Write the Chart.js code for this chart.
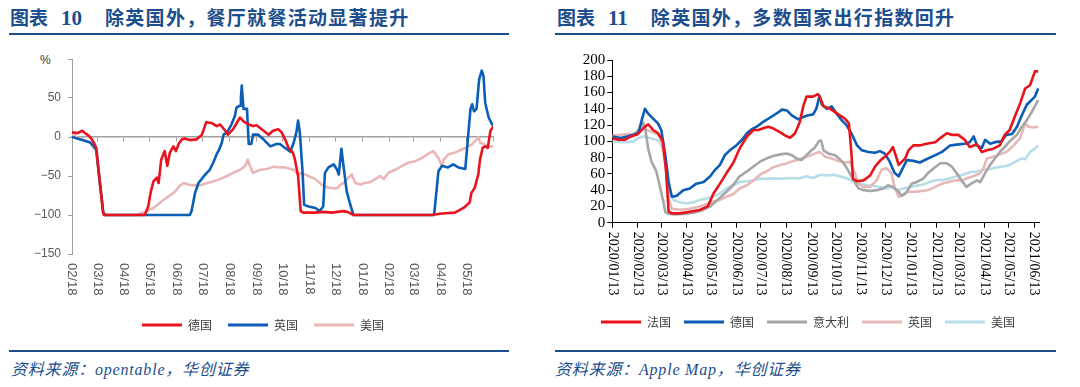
<!DOCTYPE html>
<html><head><meta charset="utf-8">
<script src="https://cdn.jsdelivr.net/npm/chart.js@4.4.1/dist/chart.umd.min.js"></script>
<style>
html,body{margin:0;padding:0;background:#fff;}
body{width:1080px;height:387px;position:relative;overflow:hidden;}
.t{position:absolute;top:6px;font-weight:700;font-size:19px;line-height:22px;color:#1C4E8E;white-space:nowrap;font-family:"Noto Sans CJK SC",sans-serif;}
.t .n{font-family:"Liberation Serif",serif;font-size:21px;margin-left:13px;}
.t .x{margin-left:23px;letter-spacing:1.3px;}
.rule{position:absolute;height:2px;background:#1C4E8E;}
.src{position:absolute;top:360px;font-family:"Liberation Serif","Noto Sans CJK SC",serif;font-style:italic;font-size:16px;line-height:20px;color:#1C4E8E;letter-spacing:0.8px;white-space:nowrap;}
canvas{position:absolute;}
.pct{position:absolute;left:40px;top:53px;font:12px "Liberation Sans",Arial,sans-serif;color:#404040;}
</style></head><body>
<div class="t" style="left:10px">图表<span class="n">10</span><span class="x">除英国外，餐厅就餐活动显著提升</span></div>
<div class="t" style="left:557px">图表<span class="n">11</span><span class="x">除英国外，多数国家出行指数回升</span></div>
<div class="rule" style="left:9px;top:33px;width:500px"></div>
<div class="rule" style="left:555px;top:33px;width:501px"></div>
<div class="rule" style="left:9px;top:350px;width:500px"></div>
<div class="rule" style="left:555px;top:350px;width:501px"></div>
<div class="src" style="left:11px">资料来源：opentable，华创证券</div>
<div class="src" style="left:555px">资料来源：Apple Map，华创证券</div>
<div class="pct">%</div>
<canvas id="c1" width="510" height="320" style="left:0;top:40px"></canvas>
<canvas id="c2" width="520" height="320" style="left:545px;top:40px"></canvas>
<script>
// ---------- Left chart: OpenTable seated diners, % y/y (day offset from 2020-02-18) ----------
const leftTickLabels = ['02/18','03/18','04/18','05/18','06/18','07/18','08/18','09/18','10/18','11/18','12/18','01/18','02/18','03/18','04/18','05/18'];
const deDay = [0,6,10,12,15,19,23,26,28,36,37,84,88,91,94,98,100,103,107,110,113,117,120,123,127,130,136,144,150,155,161,167,171,177,180,186,194,198,204,209,213,219,227,232,238,242,246,250,255,257,261,264,267,280,290,300,313,318,325,388,415,427,442,452,459,461,465,469,471,474,477,480,483,487];
const deVal = [6,5,7,8,5,2,-3,-9,-14,-98,-100,-100,-89,-70,-57,-52,-59,-29,-18,-37,-20,-12,-18,-9,-3,-2,-4,-3,3,19,18,14,16,8,3,10,25,20,16,14,15,10,3,8,10,6,-3,-14,-20,-27,-50,-95,-97,-97,-96,-97,-95,-96,-100,-100,-100,-98,-97,-91,-84,-72,-65,-48,-29,-14,-12,-14,8,14];
const ukDay = [0,9,21,25,28,32,36,38,136,138,142,146,154,159,163,167,170,173,175,179,184,188,190,194,195,196,197,198,202,204,207,209,215,221,229,236,240,246,252,256,259,261,263,266,268,273,281,286,290,292,296,302,306,308,311,313,317,320,323,325,418,423,427,434,440,446,454,460,462,464,467,470,473,475,477,481,485,487];
const ukVal = [0,-3,-7,-12,-16,-57,-96,-100,-100,-95,-72,-59,-48,-42,-33,-22,-16,-7,3,6,16,27,38,40,50,66,50,36,36,-9,-9,3,3,-3,-12,-9,-9,-14,-19,-7,6,21,6,-42,-87,-89,-91,-95,-89,-46,-39,-35,-42,-48,-15,-33,-69,-82,-93,-100,-100,-44,-37,-39,-35,-39,-41,36,42,33,36,74,85,78,44,25,16,14];
const usDay = [0,9,20,25,28,32,36,38,75,86,94,102,109,117,125,129,134,140,148,156,163,171,179,186,194,200,203,206,209,217,225,233,240,246,256,261,265,273,281,288,296,306,310,315,319,323,327,333,338,344,350,356,360,365,373,381,388,396,404,412,417,423,427,429,435,442,448,454,462,467,469,471,475,479,483,487];
const usVal = [3,-2,-6,-14,-18,-60,-97,-100,-100,-95,-91,-84,-78,-72,-62,-59,-61,-62,-62,-59,-57,-54,-50,-46,-42,-37,-29,-39,-46,-42,-41,-38,-39,-39,-42,-48,-46,-50,-54,-61,-65,-66,-61,-58,-52,-48,-59,-61,-59,-58,-54,-50,-54,-46,-42,-37,-33,-31,-27,-21,-18,-27,-37,-29,-22,-20,-17,-14,-9,-3,0,-7,-9,-11,-12,-12];

// ---------- Right chart: Apple mobility index (day offset from 2020-01-13) ----------
const rightTickLabels = ['2020/01/13','2020/02/13','2020/03/13','2020/04/13','2020/05/13','2020/06/13','2020/07/13','2020/08/13','2020/09/13','2020/10/13','2020/11/13','2020/12/13','2021/01/13','2021/02/13','2021/03/13','2021/04/13','2021/05/13','2021/06/13'];
const frDay = [0,7,16,22,30,38,44,50,56,62,66,69,73,83,95,107,117,124,132,140,148,156,165,173,179,185,191,197,206,212,218,224,230,234,238,246,252,255,259,267,273,279,285,290,293,295,300,308,316,322,328,334,340,344,348,351,355,359,363,369,377,385,396,402,410,416,424,432,438,443,447,453,459,467,475,481,487,494,500,506,512,518,522];
const frVal = [104,102,102,106,108,116,121,114,110,100,63,14,11.5,11.5,13.5,15.6,20,36,48,61,73,91,106,114,114,116,118,116,111,107,104.5,110,124,143,155,155,158,153,143,140,136,132,128,122,87,54,51,52,58,69,76,81,87,93,81,71,75,79,89,95,95,97,99,104,110,108,108,102,93,95,96,87,89,91,95,108,114,132,147,165,169,186,186];
const gmDay = [0,10,18,26,32,36,40,44,50,56,60,65,69,73,79,87,95,103,112,120,126,132,138,144,152,159,165,171,177,185,193,201,208,214,220,228,234,240,246,250,254,257,263,269,275,281,287,293,300,306,314,322,328,334,340,346,351,355,361,369,377,385,396,404,414,422,432,438,443,447,453,457,463,469,477,483,490,496,502,508,514,518,522];
const gmVal = [106,104,106,108,110,126,140,134,128,122,114,83,50,32,33,40,42,48,50,57,65,71,83,89,95,102,110,115,118,124,129,134,139,138,132,127,130,132,133,140,156,145,140,143,134,126,120,110,95,89,87,86,88,85,75,61,57,65,77,76,74,78,83,87,95,96,97,99,106,95,92,102,97,99,100,108,109,118,132,145,151,155,165];
const itDay = [0,13,24,32,37,40,44,48,54,58,63,65,69,77,91,103,112,120,130,140,148,156,165,173,181,189,197,206,214,220,226,232,238,244,248,253,256,259,265,273,279,285,291,297,302,308,316,324,332,338,344,351,355,361,367,373,381,387,394,402,410,416,422,428,434,440,447,451,457,463,469,475,481,487,496,502,508,514,520,522];
const itVal = [106,103,106,114,124,118,91,75,63,46,24,13,11,10,11,13,16,20,29,38,46,57,63,69,75,79,82,84,85,83,79,77,83,89,92,100,101,89,85,83,78,71,61,50,42,40,39,40,42,46,44,38,33,38,48,50,54,61,67,73,73,69,61,52,44,48,52,50,61,71,79,87,93,100,108,118,126,136,147,151];
const gbDay = [0,10,18,26,32,37,42,50,56,60,65,69,73,83,95,107,116,124,132,140,148,156,165,173,181,189,197,206,214,222,230,238,246,253,257,261,269,277,285,291,295,302,308,316,324,330,336,342,346,351,357,363,371,379,387,396,404,412,420,428,436,445,451,455,459,467,475,483,492,500,506,510,516,522];
const gbVal = [107,108,109,109,111,120,114,111,109,102,71,30,17,16,17,20,23,26,28,32,35,42,46,52,59,63,68,71,73,76,78,81,84,87,85,81,79,76,74,75,67,48,44,44,52,65,67,61,44,32,34,38,38,39,40,44,48,50,52,52,55,58,61,67,79,81,84,87,95,104,122,118,117,118];
const usaDay = [0,10,18,26,32,38,46,54,58,63,67,71,75,83,91,99,107,116,124,132,140,148,156,165,173,181,189,197,206,214,222,230,238,246,255,263,271,279,287,295,304,312,320,328,336,342,349,357,365,373,381,389,398,406,414,422,430,438,447,455,463,471,479,487,496,502,506,512,518,522];
const usaVal = [100,99,99,100,104,106,104,102,100,87,63,36,28,25,24,25,28,30,32,36,42,46,50,51,52,54,54,54.5,54,54.5,55,54.5,57,55,59,58,59,57,54.5,51,48,46,45.5,44,42,44,40,42,44,45.5,47,50,52.5,52.5,54.5,57,59,62,63,65,66,68,69,71,76,79,78,87,91,95];
const rightYTicks = [0,20,40,60,80,100,120,140,160,180,200];

const DAY = 864e5;
const L0 = Date.UTC(2020,1,18), R0 = Date.UTC(2020,0,13);
const leftTickPos = Array.from({length:17},(_,i)=>(Date.UTC(2020,1+i,18)-L0)/DAY);
const rightTickPos = Array.from({length:18},(_,i)=>(Date.UTC(2020,i,13)-R0)/DAY);
const pts = (d,v)=>d.map((x,i)=>({x:x,y:v[i]}));

const rotLabels = {
  id:'rotLabels',
  afterDraw(chart, args, o){
    const ctx = chart.ctx, xs = chart.scales.x;
    ctx.save();
    ctx.font = o.font; ctx.fillStyle = o.color;
    ctx.textAlign = 'left'; ctx.textBaseline = 'middle';
    o.labels.forEach((lab,i)=>{
      const px = xs.getPixelForValue(o.pos[i]);
      ctx.save();
      ctx.translate(px, chart.chartArea.bottom + o.offset);
      ctx.rotate(Math.PI/2);
      ctx.fillText(lab,0,0);
      ctx.restore();
    });
    ctx.restore();
  }
};
const legendLabels = (pad)=>({
  boxWidth:40, boxHeight:3, padding:pad, color:'#404040',
  font:{family:'"Noto Sans CJK SC", sans-serif', size:12},
  generateLabels(chart){
    const items = Chart.defaults.plugins.legend.labels.generateLabels(chart);
    items.forEach(it=>{it.lineWidth=0; it.fillStyle=it.strokeStyle;});
    return items;
  }
});
const setTicks = (pos)=> (s)=>{ s.ticks = pos.map(v=>({value:v})); };

new Chart(document.getElementById('c1'), {
  type:'line',
  data:{datasets:[
    {label:'德国', data:pts(deDay,deVal), borderColor:'#E8131F'},
    {label:'英国', data:pts(ukDay,ukVal), borderColor:'#0A5EB6'},
    {label:'美国', data:pts(usDay,usVal), borderColor:'#E9B8B6'}
  ]},
  options:{
    responsive:false, animation:false, devicePixelRatio:1,
    layout:{padding:{left:33,right:17,top:19,bottom:19}},
    elements:{point:{radius:0}, line:{borderWidth:2.6, tension:0, borderJoinStyle:'round'}},
    plugins:{
      legend:{position:'bottom', labels:legendLabels(16)},
      tooltip:{enabled:false},
      rotLabels:{labels:leftTickLabels, pos:leftTickPos, offset:9, font:'13px "Liberation Sans", Arial, sans-serif', color:'#595959'}
    },
    scales:{
      x:{type:'linear', min:0, max:leftTickPos[16], afterBuildTicks:setTicks(leftTickPos),
         border:{display:false}, grid:{display:false}, ticks:{display:false},
         afterFit:s=>{s.height=49;}},
      x0:{type:'linear', axis:'x', min:0, max:leftTickPos[16], position:{y:0}, afterBuildTicks:setTicks(leftTickPos),
         border:{color:'#A0A0A0', width:1.5}, grid:{drawOnChartArea:false, drawTicks:true, tickLength:4, color:'#A0A0A0'},
         ticks:{display:false}, afterFit:s=>{s.height=0;}},
      y:{min:-150, max:100, afterBuildTicks:s=>{s.ticks=[-150,-100,-50,0,50,100].map(v=>({value:v}));},
         border:{color:'#A0A0A0', width:1},
         grid:{drawOnChartArea:false, drawTicks:true, tickLength:4, color:'#A0A0A0'},
         ticks:{padding:7, autoSkip:false, color:'#595959', font:{family:'"Liberation Sans", Arial, sans-serif', size:12},
                callback:v=> v===100 ? '' : (v<0 ? '\u2212'+Math.abs(v) : String(v))},
         afterFit:s=>{s.width=39;}}
    }
  },
  plugins:[rotLabels]
});

new Chart(document.getElementById('c2'), {
  type:'line',
  data:{datasets:[
    {label:'法国', data:pts(frDay,frVal), borderColor:'#E8141C'},
    {label:'德国', data:pts(gmDay,gmVal), borderColor:'#0B5CB5'},
    {label:'意大利', data:pts(itDay,itVal), borderColor:'#A6A6A6'},
    {label:'英国', data:pts(gbDay,gbVal), borderColor:'#E6B9B8'},
    {label:'美国', data:pts(usaDay,usaVal), borderColor:'#B7DDE8'}
  ]},
  options:{
    responsive:false, animation:false, devicePixelRatio:1,
    layout:{padding:{left:32,right:26,top:20,bottom:22}},
    elements:{point:{radius:0}, line:{borderWidth:2.6, tension:0, borderJoinStyle:'round'}},
    plugins:{
      legend:{position:'bottom', labels:legendLabels(13)},
      tooltip:{enabled:false},
      rotLabels:{labels:rightTickLabels, pos:rightTickPos, offset:9, font:'14px "Liberation Serif", "Times New Roman", serif', color:'#000'}
    },
    scales:{
      x:{type:'linear', min:0, max:523, afterBuildTicks:setTicks(rightTickPos),
         border:{color:'#000', width:1}, grid:{drawOnChartArea:false, drawTicks:true, tickLength:5, color:'#000'},
         ticks:{display:false}, afterFit:s=>{s.height=80.3;}},
      y:{min:0, max:200, afterBuildTicks:s=>{s.ticks=rightYTicks.map(v=>({value:v}));},
         ticks:{autoSkip:false, padding:2, color:'#000', font:{family:'"Liberation Serif", "Times New Roman", serif', size:15}},
         border:{color:'#000', width:1},
         grid:{drawOnChartArea:false, drawTicks:true, tickLength:5, color:'#000'},
         afterFit:s=>{s.width=35.3;}}
    }
  },
  plugins:[rotLabels]
});
</script>
</body></html>
